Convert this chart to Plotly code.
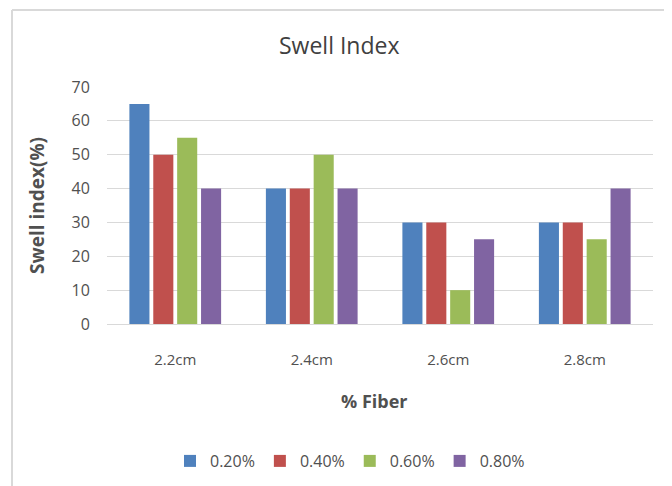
import plotly.graph_objects as go

categories = ["2.2cm", "2.4cm", "2.6cm", "2.8cm"]
series_names = ["0.20%", "0.40%", "0.60%", "0.80%"]
s020 = [65, 40, 30, 30]
s040 = [50, 40, 30, 30]
s060 = [55, 50, 10, 25]
s080 = [40, 40, 25, 40]
colors = ["#4F81BD", "#C0504D", "#9BBB59", "#8064A2"]
y_ticks = [0, 10, 20, 30, 40, 50, 60, 70]

fig = go.Figure()
for name, vals, col in zip(series_names, [s020, s040, s060, s080], colors):
    fig.add_trace(go.Bar(x=categories, y=vals, name=name, marker_color=col,
                         marker_line_width=0))

OFF = 8  # default page body margin
W, H = 672 - OFF, 486 - OFF
# plot area in window pixels
PL, PR, PT, PB = 107, 653, 87, 324
L = PL - OFF
T = PT - OFF
R = W - (PR - OFF)
B = H - (PB - OFF)
pw = PR - PL
ph = PB - PT

def px_x(x):
    return (x - PL) / pw

def px_y(y):
    return (PB - y) / ph

txt = "#505050"
font_family = "Open Sans, Noto Sans, sans-serif"

fig.update_layout(
    width=W, height=H,
    margin=dict(l=L, r=R, t=T, b=B, autoexpand=False),
    paper_bgcolor="white", plot_bgcolor="white",
    barmode="group", bargap=0.30, bargroupgap=0.16,
    font=dict(family=font_family, color=txt),
    showlegend=True,
    legend=dict(orientation="h", x=px_x(350), xanchor="center",
                y=px_y(461), yanchor="middle",
                font=dict(size=16, color=txt), itemwidth=30,
                traceorder="normal"),
    xaxis=dict(showgrid=False, showline=True, linecolor="#D9D9D9", linewidth=1,
               ticks="outside", ticklen=22, tickcolor="rgba(0,0,0,0)",
               tickfont=dict(size=15, color=txt), fixedrange=True),
    yaxis=dict(range=[0, 70], tickvals=y_ticks, showgrid=True,
               gridcolor="#D9D9D9", gridwidth=1, zeroline=False,
               ticks="outside", ticklen=13, tickcolor="rgba(0,0,0,0)",
               tickfont=dict(size=16, color=txt)),
    annotations=[
        dict(text="Swell Index", x=px_x(339), y=px_y(45), xref="paper", yref="paper",
             showarrow=False, font=dict(size=23, color="#404040"),
             xanchor="center", yanchor="middle"),
        dict(text="<b>Swell index(%)</b>", x=px_x(37), y=px_y(206), xref="paper", yref="paper",
             showarrow=False, textangle=-90, font=dict(size=19, color=txt),
             xanchor="center", yanchor="middle"),
        dict(text="<b>% Fiber</b>", x=px_x(374), y=px_y(401), xref="paper", yref="paper",
             showarrow=False, font=dict(size=18, color=txt), xanchor="center", yanchor="middle"),
    ],
    shapes=[
        dict(type="line", xref="paper", yref="paper", x0=px_x(12), x1=px_x(665),
             y0=px_y(10), y1=px_y(10), line=dict(color="#D9D9D9", width=2)),
        dict(type="line", xref="paper", yref="paper", x0=px_x(12), x1=px_x(12),
             y0=px_y(10), y1=px_y(490), line=dict(color="#D9D9D9", width=2)),
    ],
)

fig.write_html("out.html", config={"displayModeBar": False})
